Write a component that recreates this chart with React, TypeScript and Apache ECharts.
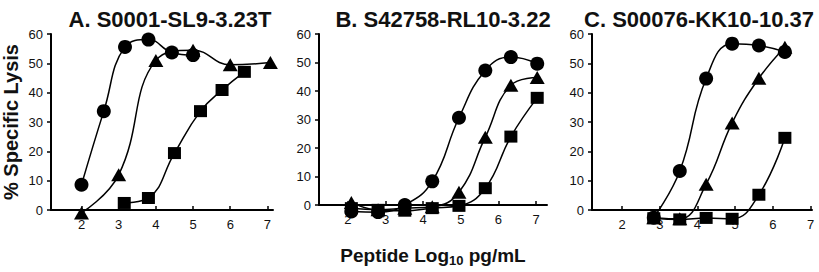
import React, { useEffect, useRef } from "react";
import * as echarts from "echarts";

const xTickValues = [2, 3, 4, 5, 6, 7];
const yMin = 0;
const yMax = 60;
const yStep = 10;

const panelTitles = ["A. S0001-SL9-3.23T", "B. S42758-RL10-3.22", "C. S00076-KK10-10.37"];

// Panel A
const aCircleX = [2.0, 2.6, 3.17, 3.8, 4.43, 5.0];
const aCircleY = [8.6, 33.7, 55.6, 58.1, 53.7, 52.8];
const aTriX = [2.0, 3.0, 4.0, 5.0, 6.0, 7.08];
const aTriY = [-1, 12, 51, 54.5, 49.5, 50.3];
const aSqX = [3.15, 3.8, 4.5, 5.2, 5.78, 6.38];
const aSqY = [2.4, 4.1, 19.4, 33.7, 40.9, 47.1];

// Panel B
const bX = [2.09, 2.8, 3.51, 4.24, 4.95, 5.65, 6.33, 7.03];
const bCircleY = [-2.3, -2.5, 0, 8.3, 30.6, 47.2, 51.9, 49.6];
const bTriY = [0.9, -1.7, -1.1, -0.6, 4.5, 23.8, 42, 44.7];
const bSqY = [-1.1, -1.7, -2, -1.1, -0.3, 5.9, 24, 37.6];

// Panel C
const cX = [2.84, 3.53, 4.23, 4.92, 5.63, 6.32];
const cCircleY = [-2.6, 13.3, 44.8, 56.7, 56.1, 53.9];
const cTriY = [-2.6, -3.0, 8.8, 29.7, 44.9, 55.5];
const cSqY = [-2.8, -3.2, -2.7, -3.0, 5.2, 24.6];

const zip = (xs: number[], ys: number[]) => xs.map((x, i) => [x, ys[i]]);

const panels = [
  { left: 49, width: 224, min: 1.18, max: 7.15, circles: zip(aCircleX, aCircleY), tris: zip(aTriX, aTriY), squares: zip(aSqX, aSqY) },
  { left: 319, width: 228, min: 1.23, max: 7.29, circles: zip(bX, bCircleY), tris: zip(bX, bTriY), squares: zip(bX, bSqY) },
  { left: 592, width: 220, min: 1.2, max: 7.04, circles: zip(cX, cCircleY), tris: zip(cX, cTriY), squares: zip(cX, cSqY) },
];

const titleCenters = [165, 438, 694];

export default function App() {
  const ref = useRef<HTMLDivElement>(null);
  useEffect(() => {
    document.body.style.margin = "0";
    if (!ref.current) return;
    const chart = echarts.init(ref.current, undefined, { renderer: "svg" });
    const font = "'Liberation Sans', Arial, sans-serif";
    const grids = panels.map((p) => ({ left: p.left, width: p.width, top: 34, height: 176, containLabel: false }));
    const xAxes = panels.map((p, i) => ({
      type: "value",
      gridIndex: i,
      min: p.min,
      max: p.max,
      splitLine: { show: false },
      axisLine: { show: true, onZero: false, lineStyle: { color: "#000", width: 2 } },
      axisTick: { show: true, inside: true, length: 4, customValues: xTickValues, lineStyle: { color: "#000", width: 1.5 } },
      axisLabel: { customValues: xTickValues, color: "#111", fontSize: 13, fontFamily: font, margin: 8 },
      name: i === 1 ? "{a|Peptide Log}{s|10}{a| pg/mL}" : "",
      nameLocation: "middle",
      nameGap: 38,
      nameTextStyle: {
        fontFamily: font,
        rich: {
          a: { fontSize: 19, fontWeight: "bold", color: "#111", fontFamily: font, lineHeight: 24, verticalAlign: "middle" },
          s: { fontSize: 13, fontWeight: "bold", color: "#111", fontFamily: font, lineHeight: 22, verticalAlign: "bottom" },
        },
      },
    }));
    const yAxes = panels.map((p, i) => ({
      type: "value",
      gridIndex: i,
      min: yMin,
      max: yMax,
      interval: yStep,
      splitLine: { show: false },
      axisLine: { show: true, lineStyle: { color: "#000", width: 2 } },
      axisTick: { show: true, inside: false, length: 4, lineStyle: { color: "#000", width: 1.5 } },
      axisLabel: { color: "#111", fontSize: 13, fontFamily: font, margin: 8 },
      name: i === 0 ? "% Specific Lysis" : "",
      nameLocation: "middle",
      nameGap: 30,
      nameTextStyle: { fontSize: 20, fontWeight: "bold", color: "#111", fontFamily: font },
    }));
    const series: any[] = [];
    panels.forEach((p, i) => {
      const common = {
        type: "line",
        xAxisIndex: i,
        yAxisIndex: i,
        smooth: 0.45,
        clip: false,
        lineStyle: { color: "#000", width: 1.5 },
        itemStyle: { color: "#000", borderWidth: 0 },
        emphasis: { disabled: true },
      };
      series.push({ ...common, data: p.circles, symbol: "circle", symbolSize: 14 });
      series.push({ ...common, data: p.tris, symbol: "triangle", symbolSize: [15, 13] });
      series.push({ ...common, data: p.squares, symbol: "rect", symbolSize: [13, 12] });
    });
    chart.setOption({
      animation: false,
      backgroundColor: "#fff",
      title: panelTitles.map((t, i) => ({
        text: t,
        left: titleCenters[i],
        top: 3,
        textAlign: "center",
        textStyle: { fontSize: 22, fontWeight: "bold", color: "#111", fontFamily: font },
      })),
      grid: grids,
      xAxis: xAxes,
      yAxis: yAxes,
      series,
    });
    return () => chart.dispose();
  }, []);
  return <div ref={ref} style={{ width: 819, height: 272 }} />;
}
